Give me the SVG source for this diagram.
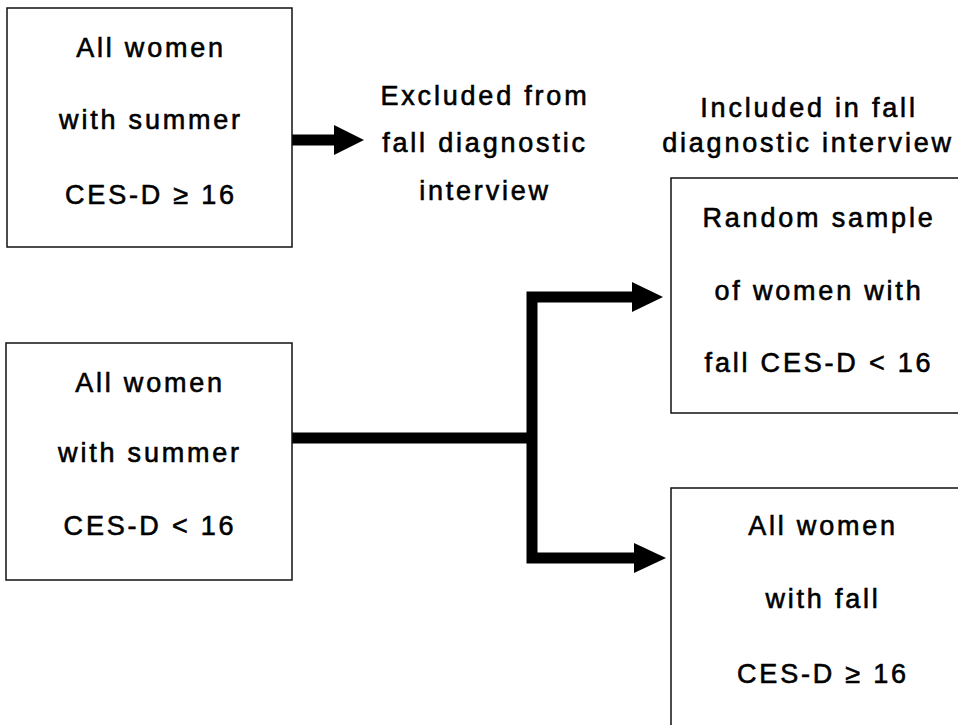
<svg xmlns="http://www.w3.org/2000/svg" width="958" height="725" viewBox="0 0 958 725">
<style>
.box{fill:#fff;stroke:#111;stroke-width:1.5}
.t{font-family:"Liberation Sans",Arial,sans-serif;font-size:27px;letter-spacing:2.8px;fill:#000;stroke:#000;stroke-width:0.6;text-anchor:middle}
.c{fill:none;stroke:#000;stroke-width:11}
.h{fill:#000}
</style>
<rect width="958" height="725" fill="#fff"/>
<g id="connectors">
<line class="c" x1="292" y1="140" x2="337" y2="140"/>
<polygon class="h" points="334,125 364,140 334,155"/>
<polyline class="c" points="292,438 532,438"/>
<polyline class="c" points="636,297 532,297 532,558 638,558"/>
<polygon class="h" points="632,282 663,297 632,312"/>
<polygon class="h" points="634,543 666,558 634,573"/>
</g>
<g id="summer-high">
<rect class="box" x="7" y="8" width="285" height="239"/>
<text class="t" x="151" y="57">All women</text>
<text class="t" x="151" y="129">with summer</text>
<text class="t" x="151" y="204">CES-D ≥ 16</text>
</g>
<g id="excluded-label">
<text class="t" x="485" y="105">Excluded from</text>
<text class="t" x="485" y="152">fall diagnostic</text>
<text class="t" x="485" y="200">interview</text>
</g>
<g id="included-label">
<text class="t" x="809" y="117">Included in  fall</text>
<text class="t" x="808" y="152">diagnostic interview</text>
</g>
<g id="summer-low">
<rect class="box" x="6" y="343" width="286" height="237"/>
<text class="t" x="150" y="392">All women</text>
<text class="t" x="150" y="462">with summer</text>
<text class="t" x="150" y="535">CES-D &lt; 16</text>
</g>
<g id="random-sample">
<rect class="box" x="671" y="178" width="300" height="235"/>
<text class="t" x="819" y="227">Random sample</text>
<text class="t" x="819" y="300">of women with</text>
<text class="t" x="819" y="372">fall CES-D &lt; 16</text>
</g>
<g id="fall-high">
<rect class="box" x="671" y="488" width="300" height="250"/>
<text class="t" x="823" y="535">All women</text>
<text class="t" x="823" y="608">with fall</text>
<text class="t" x="823" y="683">CES-D ≥ 16</text>
</g>
</svg>
